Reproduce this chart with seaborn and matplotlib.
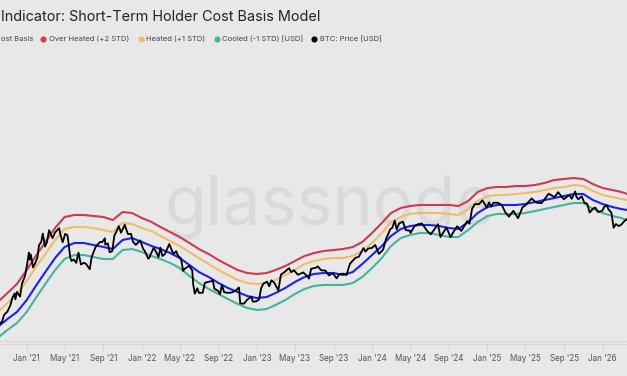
import matplotlib
matplotlib.use("Agg")
import numpy as np
import pandas as pd
import seaborn as sns
import matplotlib.pyplot as plt
import matplotlib.dates as mdates
from matplotlib.lines import Line2D
from matplotlib.ticker import NullLocator

# ---------------- data (USD thousands) ----------------
band_dates = list(pd.date_range("2020-10-01", "2026-03-01", freq="MS")) + [pd.Timestamp("2026-03-20")]

over_heated = [16.3, 19.24, 22.72,
               29.39, 38.74, 49.23, 63.71, 78.03, 80.96, 80.96, 79.48, 78.03, 73.83, 85.56, 84.00,
               76.61, 71.16, 64.89, 59.18, 53.97, 48.33, 43.27, 39.46, 35.34, 32.23, 29.39, 27.81,
               27.31, 27.81, 29.39, 31.64, 34.69, 38.04, 40.20, 41.71, 42.48, 43.27, 44.90, 49.23,
               58.11, 69.87, 84.00, 92.10, 95.56, 97.34, 97.34, 97.34, 97.34, 95.56, 104.8, 123.7,
               133.1, 135.6, 135.6, 138.1, 138.1, 140.7, 146.0, 154.3, 157.1, 160.1, 157.1, 143.3,
               133.1, 128.3, 123.7, 119.2]

heated = [13.56, 16.0, 18.88,
          24.0, 31.64, 39.46, 51.07, 62.55, 64.89, 64.89, 63.71, 61.40, 59.18, 69.87, 68.58,
          63.71, 60.28, 54.98, 50.14, 45.73, 40.95, 36.66, 32.83, 29.39, 26.82, 24.46, 23.13,
          22.72, 23.13, 24.46, 26.82, 29.39, 32.83, 34.69, 35.99, 36.66, 36.66, 38.04, 41.71,
          48.33, 58.11, 71.16, 78.03, 82.47, 84.00, 84.00, 84.00, 82.47, 80.96, 90.42, 104.8,
          114.9, 117.0, 117.0, 119.2, 121.4, 123.7, 128.3, 133.1, 135.6, 140.7, 138.1, 126.0,
          117.0, 112.8, 108.7, 106.7]

cost_basis = [10.29, 11.92, 13.56,
              16.91, 22.31, 28.33, 36.66, 44.90, 48.33, 48.33, 46.58, 44.90, 43.27, 51.07, 52.99,
              49.23, 45.73, 43.27, 40.20, 36.66, 32.23, 28.33, 25.85, 23.13, 21.11, 19.59, 18.20,
              17.54, 17.87, 19.24, 21.11, 23.56, 25.85, 27.31, 27.81, 27.81, 26.82, 28.33, 32.83,
              38.74, 45.73, 54.98, 62.55, 66.10, 67.33, 67.33, 66.10, 63.71, 62.55, 71.16, 84.00,
              93.82, 97.34, 97.34, 97.34, 99.15, 102.9, 106.7, 110.7, 114.9, 119.2, 119.2, 106.7,
              99.15, 93.82, 90.42, 88.77]

cooled = [8.40, 9.75, 11.07,
          13.56, 17.87, 22.72, 29.39, 35.99, 38.74, 38.74, 37.34, 35.99, 35.99, 42.48, 43.27,
          40.95, 38.04, 35.99, 33.44, 30.49, 26.33, 23.13, 20.72, 18.88, 17.22, 15.71, 14.59,
          14.06, 14.32, 15.42, 16.91, 18.88, 20.72, 21.91, 22.31, 22.31, 22.31, 23.13, 25.85,
          30.49, 36.66, 45.73, 52.99, 56.00, 58.11, 58.11, 56.00, 53.97, 53.97, 61.40, 71.16,
          79.48, 82.47, 82.47, 82.47, 84.00, 87.15, 90.42, 93.82, 97.34, 101.0, 101.0, 90.42,
          84.00, 79.48, 76.61, 73.83]

price_dates = [
    "2020-10-08", "2020-10-15", "2020-10-21", "2020-11-01", "2020-11-10", "2020-11-17", "2020-11-24",
    "2020-11-26", "2020-12-01", "2020-12-11", "2020-12-17", "2020-12-27",
    "2021-01-02", "2021-01-08", "2021-01-11", "2021-01-14", "2021-01-21", "2021-01-28", "2021-02-04",
    "2021-02-09", "2021-02-16", "2021-02-21", "2021-02-28", "2021-03-06", "2021-03-13", "2021-03-24",
    "2021-04-01", "2021-04-14", "2021-04-18", "2021-04-25", "2021-05-03", "2021-05-10", "2021-05-13",
    "2021-05-19", "2021-05-23", "2021-05-30", "2021-06-07", "2021-06-14", "2021-06-22", "2021-07-01",
    "2021-07-08", "2021-07-20", "2021-07-26", "2021-08-07", "2021-08-14", "2021-08-22", "2021-08-28",
    "2021-09-06", "2021-09-07", "2021-09-15", "2021-09-21", "2021-09-29", "2021-10-06", "2021-10-15",
    "2021-10-20", "2021-10-27", "2021-11-08", "2021-11-10", "2021-11-18", "2021-11-28", "2021-12-04",
    "2021-12-13", "2021-12-21", "2021-12-27",
    "2022-01-05", "2022-01-10", "2022-01-21", "2022-01-24", "2022-02-07", "2022-02-13", "2022-02-23",
    "2022-03-01", "2022-03-07", "2022-03-15", "2022-03-29", "2022-04-11", "2022-04-20", "2022-04-26",
    "2022-05-05", "2022-05-12", "2022-05-16", "2022-05-31", "2022-06-10", "2022-06-13", "2022-06-18",
    "2022-06-26", "2022-07-01", "2022-07-13", "2022-07-20", "2022-07-30", "2022-08-10", "2022-08-14",
    "2022-08-19", "2022-08-31", "2022-09-06", "2022-09-12", "2022-09-19", "2022-10-01", "2022-10-13",
    "2022-10-25", "2022-11-05", "2022-11-09", "2022-11-21", "2022-12-01", "2022-12-14", "2022-12-19",
    "2022-12-30",
    "2023-01-08", "2023-01-14", "2023-01-21", "2023-02-02", "2023-02-09", "2023-02-16", "2023-02-25",
    "2023-03-10", "2023-03-18", "2023-03-30", "2023-04-13", "2023-04-20", "2023-04-28", "2023-05-11",
    "2023-05-28", "2023-06-08", "2023-06-15", "2023-06-22", "2023-07-05", "2023-07-13", "2023-07-24",
    "2023-08-06", "2023-08-17", "2023-08-29", "2023-09-11", "2023-09-19", "2023-10-02", "2023-10-12",
    "2023-10-23", "2023-11-09", "2023-11-20", "2023-12-05", "2023-12-11", "2023-12-20",
    "2024-01-01", "2024-01-11", "2024-01-23", "2024-02-05", "2024-02-14", "2024-02-28", "2024-03-05",
    "2024-03-13", "2024-03-19", "2024-03-27", "2024-04-08", "2024-04-17", "2024-04-30", "2024-05-02",
    "2024-05-15", "2024-05-27", "2024-06-07", "2024-06-24", "2024-07-05", "2024-07-14", "2024-07-28",
    "2024-08-05", "2024-08-14", "2024-08-24", "2024-09-06", "2024-09-15", "2024-09-27", "2024-10-10",
    "2024-10-29", "2024-11-05", "2024-11-13", "2024-11-22", "2024-12-05", "2024-12-16", "2024-12-30",
    "2025-01-06", "2025-01-13", "2025-01-20", "2025-02-03", "2025-02-15", "2025-02-27", "2025-03-10",
    "2025-03-24", "2025-04-08", "2025-04-22", "2025-05-01", "2025-05-21", "2025-06-05", "2025-06-22",
    "2025-07-10", "2025-07-14", "2025-08-02", "2025-08-13", "2025-08-31", "2025-09-18", "2025-09-25",
    "2025-10-06", "2025-10-10", "2025-10-16", "2025-10-27", "2025-11-04", "2025-11-13", "2025-11-21",
    "2025-12-02", "2025-12-09", "2025-12-18", "2025-12-31",
    "2026-01-06", "2026-01-14", "2026-01-20", "2026-01-29", "2026-02-05", "2026-02-12", "2026-02-22",
    "2026-03-02", "2026-03-10", "2026-03-19"]

btc_price = [
    10.9, 11.4, 12.8, 13.7, 15.3, 17.7, 19.1, 17.1, 19.6, 18.0, 22.8, 26.5,
    32.2, 40.6, 35.5, 39.2, 30.8, 33.4, 36.9, 46.4, 49.2, 57.5, 45.2, 48.9, 61.2, 52.8,
    58.8, 63.5, 56.2, 49.0, 57.2, 55.9, 49.7, 37.0, 34.7, 35.7, 33.5, 40.5, 32.5, 33.6,
    32.9, 29.8, 37.3, 44.6, 47.1, 49.3, 49.0, 52.7, 46.9, 48.1, 40.7, 41.5, 55.4, 61.5,
    66.0, 58.4, 67.6, 64.9, 56.9, 57.2, 49.4, 46.7, 49.0, 50.7,
    43.4, 41.9, 36.3, 36.6, 44.0, 42.1, 37.3, 44.4, 38.0, 39.3, 47.4, 39.5, 41.5, 38.1,
    36.5, 28.9, 29.9, 31.8, 29.1, 22.5, 19.0, 21.0, 19.3, 19.3, 23.2, 23.6, 23.9, 24.4,
    20.8, 20.0, 18.8, 22.4, 19.5, 19.3, 19.4, 20.1, 21.3, 15.9, 15.8, 17.0, 18.0, 16.4,
    16.5,
    17.1, 20.9, 22.8, 23.7, 21.8, 24.3, 23.2, 20.2, 27.0, 28.4, 30.4, 28.2, 29.3, 26.9,
    28.1, 26.5, 25.1, 30.1, 30.5, 31.4, 29.2, 29.1, 26.6, 27.7, 25.2, 27.2, 27.5, 26.8,
    33.0, 36.7, 37.5, 44.0, 41.2, 43.6,
    44.2, 46.6, 39.5, 42.7, 51.8, 62.4, 63.8, 73.1, 62.0, 69.4, 71.6, 61.3, 60.6, 58.2,
    66.2, 68.5, 69.4, 60.3, 56.7, 60.8, 68.2, 54.0, 58.7, 64.1, 53.9, 59.1, 65.8, 60.3,
    72.3, 68.9, 90.4, 98.9, 98.8, 106.1, 92.7,
    102.1, 94.5, 101.5, 101.3, 97.6, 84.7, 78.5, 87.5, 76.3, 93.4, 96.5, 109.7, 101.6, 100.9,
    116.0, 119.8, 112.5, 123.3, 108.2, 117.1, 109.0, 124.7, 113.2, 108.2, 114.1, 101.5, 99.7, 84.7,
    91.3, 92.7, 85.5, 87.5,
    93.9, 96.9, 89.5, 84.5, 64.0, 68.5, 66.0, 68.0, 72.0, 75.0]

series_labels = ["ost Basis", "Over Heated (+2 STD)", "Heated (+1 STD)",
                 "Cooled (-1 STD) [USD]", "BTC: Price [USD]"]
title_text = "Indicator: Short-Term Holder Cost Basis Model"

# ---------------- style ----------------
BG = "#e8e8e8"
C_RED = "#cf3a4e"
C_ORG = "#f0bc6a"
C_BLUE = "#1a22f2"
C_TEAL = "#45b39e"
C_BLK = "#000000"

sns.set_theme(style="white")
plt.rcParams["font.family"] = ["Inter", "DejaVu Sans"]

W, H = 627, 376
fig = plt.figure(figsize=(W / 100, H / 100), dpi=100, facecolor=BG)
ax = fig.add_axes([0, (H - 344) / H, 1, (344 - 60) / H])
ax.set_facecolor(BG)

# watermark
ax.text(330 / W, 1 - 225 / H, "glassnode", transform=fig.transFigure, ha="center",
        va="baseline", fontsize=49, color="#dadada", zorder=0)

bands = pd.DataFrame({"date": band_dates, "red": over_heated, "org": heated,
                      "blue": cost_basis, "teal": cooled})
price = pd.DataFrame({"date": pd.to_datetime(price_dates), "v": btc_price})

for col, c in [("red", C_RED), ("org", C_ORG), ("teal", C_TEAL), ("blue", C_BLUE)]:
    sns.lineplot(data=bands, x="date", y=col, ax=ax, color=c, lw=1.5, zorder=2)
sns.lineplot(data=price, x="date", y="v", ax=ax, color=C_BLK, lw=1.3, zorder=3)

ax.set_yscale("log")
ax.set_ylim(7.519, 1407)
ax.set_xlim(pd.Timestamp("2020-10-08 08:00"), pd.Timestamp("2026-03-19 10:00"))
ax.set_xlabel("")
ax.set_ylabel("")

ax.xaxis.set_major_locator(mdates.MonthLocator(bymonth=[1, 5, 9]))
ax.xaxis.set_major_formatter(mdates.DateFormatter("%b '%y"))
ax.xaxis.set_minor_locator(NullLocator())
ax.tick_params(axis="x", length=5, width=0.6, color="#cfcfcf", labelsize=5.8,
               labelcolor="#555555", pad=2.5, bottom=True)
ax.set_yticks([8])
ax.yaxis.set_minor_locator(NullLocator())
ax.set_yticklabels([])
ax.tick_params(axis="y", length=0)
ax.grid(axis="y", linestyle=(0, (1, 1.5)), color="#bdbdbd", lw=0.8)
ax.grid(axis="x", visible=False)
for s in ["top", "left", "right"]:
    ax.spines[s].set_visible(False)
ax.spines["bottom"].set_color("#d6d6d6")
ax.spines["bottom"].set_linewidth(0.8)

# title
fig.text(1 / W, 1 - 17 / H, title_text, ha="left", va="center", fontsize=10.4, color="#222222")

# legend (manual; the first entry is cropped at the left like the reference)
ly = 1 - 39 / H
leg = [(series_labels[0], C_BLUE, None, 1),
       (series_labels[1], C_RED, 43.3, 49),
       (series_labels[2], C_ORG, 140.7, 145.7),
       (series_labels[3], C_TEAL, 217, 222),
       (series_labels[4], C_BLK, 314, 320)]
for lab, c, dx, tx in leg:
    if dx is not None:
        fig.add_artist(Line2D([dx / W], [ly], marker="o", ms=3.4, color=c, lw=0,
                              transform=fig.transFigure))
    fig.text(tx / W, ly, lab, ha="left", va="center", fontsize=5.5, color="#444444")

fig.savefig("out.png", dpi=100, facecolor=BG)
